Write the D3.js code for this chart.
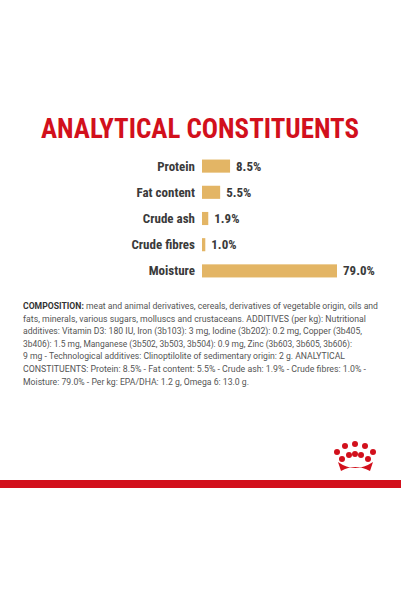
<!DOCTYPE html><html><head><meta charset="utf-8"><script src="https://cdn.jsdelivr.net/npm/d3@7"></script>
<style>body{margin:0;background:#fff}</style></head><body><script>
const categories=["Protein","Fat content","Crude ash","Crude fibres","Moisture"];
const values=[8.5,5.5,1.9,1.0,79.0];
const valueLabels=["8.5%","5.5%","1.9%","1.0%","79.0%"];
const title="ANALYTICAL CONSTITUENTS";
const compLines=[
["COMPOSITION:"," meat and animal derivatives, cereals, derivatives of vegetable origin, oils and"],
["","fats, minerals, various sugars, molluscs and crustaceans. ADDITIVES (per kg): Nutritional"],
["","additives: Vitamin D3: 180 IU, Iron (3b103): 3 mg, Iodine (3b202): 0.2 mg, Copper (3b405,"],
["","3b406): 1.5 mg, Manganese (3b502, 3b503, 3b504): 0.9 mg, Zinc (3b603, 3b605, 3b606):"],
["","9 mg - Technological additives: Clinoptilolite of sedimentary origin: 2 g. ANALYTICAL"],
["","CONSTITUENTS: Protein: 8.5% - Fat content: 5.5% - Crude ash: 1.9% - Crude fibres: 1.0% -"],
["","Moisture: 79.0% - Per kg: EPA/DHA: 1.2 g, Omega 6: 13.0 g."]];
const lineWidths=[355,343,339,329,322,343,226];
const svg=d3.select("body").append("svg").attr("width",401).attr("height",601);
svg.append("text").attr("x",200).attr("y",138).attr("text-anchor","middle").attr("fill","#d2101c")
 .attr("font-family","Roboto Condensed, Liberation Sans Narrow, Roboto, sans-serif").attr("font-weight","bold")
 .attr("font-size",27).attr("textLength",318).attr("lengthAdjust","spacingAndGlyphs").text(title);
const x=d3.scaleLinear().domain([0,10,79]).range([0,33,135]);
const y=d3.scaleBand().domain(categories).range([153,284]).paddingInner(0.5).paddingOuter(0.25);
const x0=202;
const g=svg.append("g");
categories.forEach((c,i)=>{
 const yy=y(c);
 g.append("rect").attr("x",x0).attr("y",yy).attr("width",x(values[i])).attr("height",y.bandwidth()).attr("fill","#e3b565");
 g.append("text").attr("x",x0-7).attr("y",yy+y.bandwidth()/2+4.5).attr("text-anchor","end").attr("font-family","Roboto Condensed, Liberation Sans Narrow, Roboto, sans-serif").attr("font-weight","bold").attr("font-size",13).attr("fill","#3a3a3a").text(c);
 g.append("text").attr("x",x0+x(values[i])+6).attr("y",yy+y.bandwidth()/2+4.5).attr("font-family","Roboto Condensed, Liberation Sans Narrow, Roboto, sans-serif").attr("font-weight","bold").attr("font-size",13).attr("fill","#3a3a3a").text(valueLabels[i]);
});
compLines.forEach((l,i)=>{
 const t=svg.append("text").attr("x",23).attr("y",309+i*12.6).attr("font-family","Roboto, sans-serif").attr("font-size",9.3).attr("fill","#555")
  .attr("textLength",lineWidths[i]).attr("lengthAdjust","spacingAndGlyphs");
 if(l[0])t.append("tspan").attr("font-weight","bold").attr("fill","#333").text(l[0]);
 t.append("tspan").text(l[1]);
});
// crown
const cr=svg.append("g").attr("fill","#d2101c");
[[337,452],[345,446],[355,444],[365,446],[373,452],[342,459],[349,455],[355,454],[361,455],[368,459]].forEach(p=>cr.append("circle").attr("cx",p[0]).attr("cy",p[1]).attr("r",3));
cr.append("path").attr("d","M338,462 Q355,474 373,462 L370,471 Q355,463 341,471 Z");
svg.append("rect").attr("x",0).attr("y",480).attr("width",401).attr("height",8).attr("fill","#d2101c");
</script></body></html>
